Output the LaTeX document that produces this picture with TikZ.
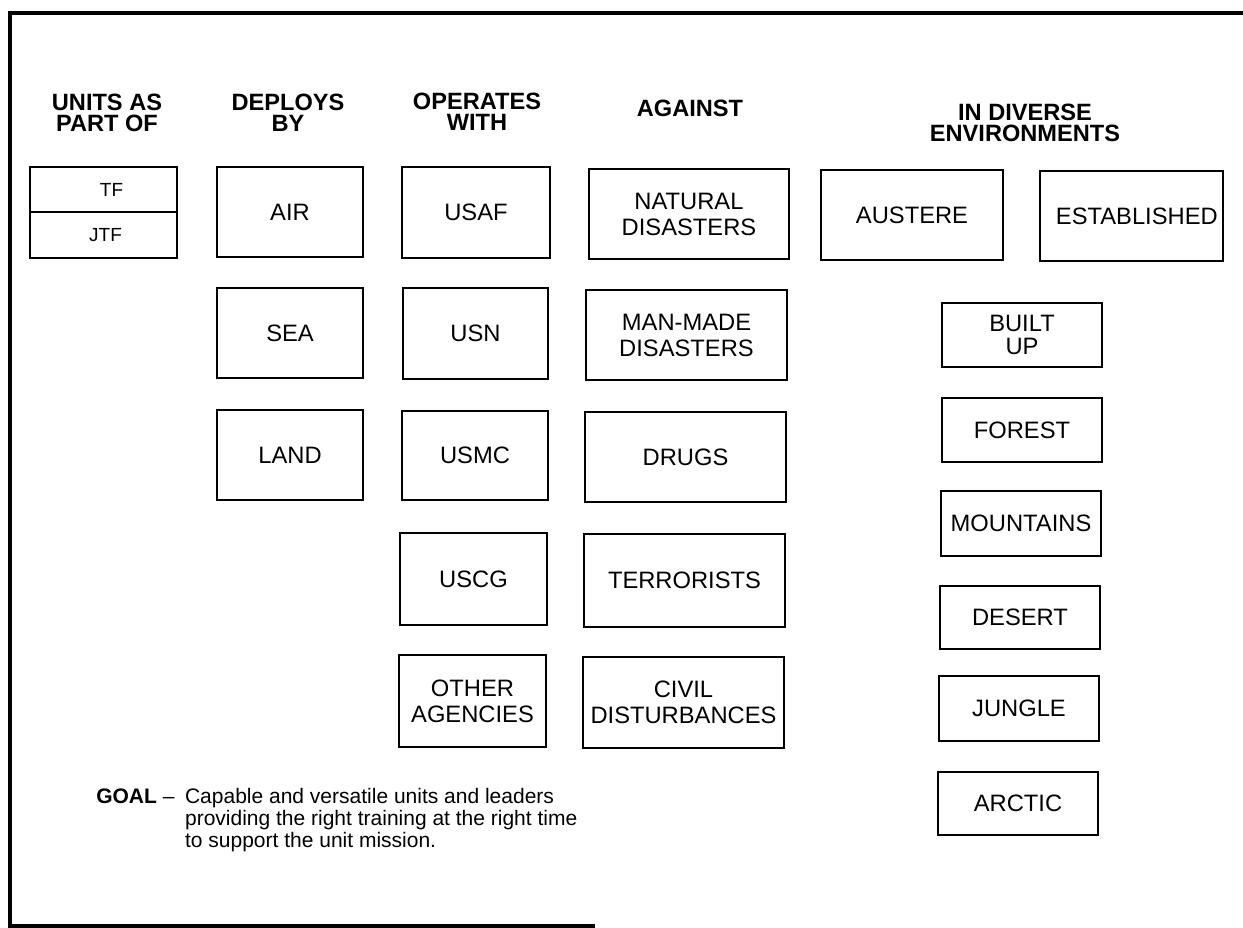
\documentclass[tikz,border=0pt]{standalone}
\usepackage{fontspec}
\setmainfont{Liberation Sans}
\tikzset{
  bx/.style={draw, line width=2.2pt, inner sep=0pt, align=center,
    font=\fontsize{17.8}{19.5}\selectfont},
  hdr/.style={inner sep=0pt, align=center,
    font=\fontsize{17.7}{16}\selectfont\bfseries},
  framestyle/.style={line width=2.3pt}
}
\newcommand\mkbox[7][]{%
  \node[bx,#1, minimum width={(#5-#3)*0.75pt}, minimum height={(#6-#4)*0.75pt}]
    (#2) at ({(#3+#5)/2},{(#4+#6)/2}) {#7};}
\begin{document}
\begin{tikzpicture}[x=0.75pt,y=-0.75pt]
\useasboundingbox (0,0) rectangle (1243,928);
% frame
\coordinate (ftr) at (1243,13);
\coordinate (ftl) at (10,13);
\coordinate (fbl) at (10,926);
\coordinate (fbr) at (595,926);
\draw[framestyle] (ftr) -- (ftl) -- (fbl) -- (fbr);
% headers
\node[hdr] (h1) at (107,113) {UNITS AS\\PART OF};
\node[hdr] (h2) at (288,113) {DEPLOYS\\BY};
\node[hdr] (h3) at (477,112) {OPERATES\\WITH};
\node[hdr] (h4) at (690,108) {AGAINST};
\node[hdr] (h5) at (1025,123) {IN DIVERSE\\ENVIRONMENTS};
% column 1
\mkbox[font=\fontsize{14.25}{16}\selectfont]{tf}{30}{167}{177}{212}{\hspace*{12pt}TF}
\mkbox[font=\fontsize{14.25}{16}\selectfont]{jtf}{30}{212}{177}{258}{\hspace*{3pt}JTF}
% column 2
\mkbox{air}{217}{167}{363}{257}{AIR}
\mkbox{sea}{217}{288}{363}{378}{SEA}
\mkbox{land}{217}{410}{363}{500}{LAND}
% column 3
\mkbox{usaf}{402}{167}{550}{258}{USAF}
\mkbox{usn}{403}{288}{548}{379}{USN}
\mkbox{usmc}{402}{411}{548}{500}{USMC}
\mkbox{uscg}{400}{533}{547}{625}{USCG}
\mkbox{other}{399}{655}{546}{747}{OTHER\\AGENCIES}
% column 4
\mkbox{natural}{589}{169}{789}{259}{NATURAL\\DISASTERS}
\mkbox{manmade}{586}{290}{787}{380}{MAN-MADE\\DISASTERS}
\mkbox{drugs}{585}{412}{786}{502}{DRUGS}
\mkbox{terror}{584}{534}{785}{627}{TERRORISTS}
\mkbox{civil}{583}{657}{784}{748}{CIVIL\\DISTURBANCES}
% column 5
\mkbox{austere}{821}{170}{1003}{260}{AUSTERE}
\mkbox{established}{1040}{171}{1223}{261}{\hspace*{8pt}ESTABLISHED}
% column 6
\mkbox[font=\fontsize{17.8}{17.25}\selectfont]{builtup}{942}{303}{1102}{367}{BUILT\\UP}
\mkbox{forest}{942}{398}{1102}{462}{FOREST}
\mkbox{mountains}{941}{491}{1101}{556}{MOUNTAINS}
\mkbox{desert}{940}{586}{1100}{649}{DESERT}
\mkbox{jungle}{939}{676}{1099}{741}{JUNGLE}
\mkbox{arctic}{938}{772}{1098}{835}{ARCTIC}
% goal
\node[anchor=base west, inner sep=0pt, font=\fontsize{15.75}{16.5}\selectfont] (goal) at (96,803)
  {\begin{tabular}[t]{@{}l@{\hspace{8pt}}l@{}}
   \textbf{GOAL} – & Capable and versatile units and leaders\\
   & providing the right training at the right time\\
   & to support the unit mission.
   \end{tabular}};
\end{tikzpicture}
\end{document}
